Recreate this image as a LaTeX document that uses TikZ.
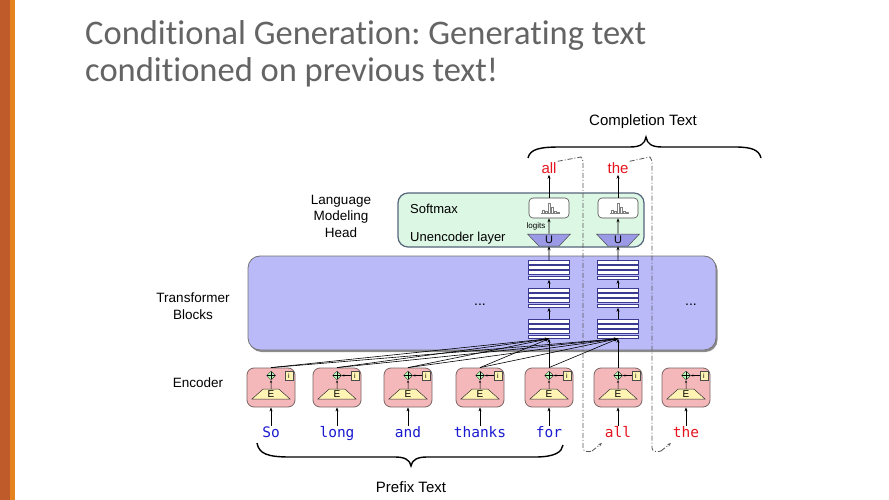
\documentclass[tikz,border=0pt]{standalone}
\usepackage{fontspec}
\setmainfont{Liberation Sans}
\newfontfamily\titlefont[Ligatures={NoCommon}]{Carlito}
\newfontfamily\tokfont{DejaVu Sans Mono}
\usetikzlibrary{shapes.geometric,arrows.meta,shadows}
\definecolor{barA}{HTML}{BF5A2A}
\definecolor{barB}{HTML}{E5831E}
\definecolor{titlegray}{HTML}{646464}
\definecolor{tfill}{HTML}{BABAF9}
\definecolor{hfill}{HTML}{DDF7E5}
\definecolor{hborder}{HTML}{55657A}
\definecolor{efill}{HTML}{F5B8BA}
\definecolor{eborder}{HTML}{7A6464}
\definecolor{trapfill}{HTML}{FFF4B4}
\definecolor{ufill}{HTML}{9A9AE6}
\definecolor{stkline}{HTML}{3A3A90}
\definecolor{tokblue}{HTML}{1A1AD0}
\definecolor{tokred}{HTML}{E3141E}
\definecolor{ddgray}{HTML}{555555}
\frenchspacing
\begin{document}
\begin{tikzpicture}[x=1pt,y=-1pt,
  arr/.style={-{Stealth[length=4pt,width=3pt]},line width=0.6pt},
  arrs/.style={-{Stealth[length=2.5pt,width=2pt]},line width=0.5pt},
  lbl/.style={font=\fontsize{13.5}{16.5}\selectfont,align=center},
  tok/.style={font=\tokfont\fontsize{14.5}{16}\selectfont,inner sep=1pt,text height=10.5pt,text depth=3pt},
  word/.style={font=\fontsize{15}{17}\selectfont,text=tokred,inner sep=1pt,text height=11pt,text depth=0pt},
  encbox/.style={draw=eborder,line width=0.8pt,fill=efill,rounded corners=7pt,minimum width=48pt,minimum height=39pt,inner sep=0pt},
  etrap/.style={trapezium,trapezium angle=55,trapezium stretches=true,minimum width=38pt,minimum height=10pt,inner sep=0pt,draw=black!80,line width=0.5pt,fill=trapfill,font=\fontsize{10}{10}\selectfont},
  dmd/.style={diamond,minimum width=9pt,minimum height=9pt,inner sep=0pt,draw=black!75,line width=0.5pt,fill=green!30},
  ibox/.style={rectangle,minimum width=8pt,minimum height=9pt,inner sep=0pt,draw=black!70,line width=0.5pt,fill=trapfill,font=\fontsize{7}{7}\selectfont},
  stk/.style={minimum width=41pt,minimum height=19pt,inner sep=0pt},
  bar/.style={draw=stkline,line width=0.45pt,fill=white},
  smbox/.style={draw=black!70,line width=0.6pt,fill=white,rounded corners=4pt,minimum width=40pt,minimum height=20pt,inner sep=0pt},
  ushape/.style={trapezium,trapezium angle=60,trapezium stretches=true,shape border rotate=180,minimum width=43pt,minimum height=12pt,inner sep=0pt,draw=black!70,line width=0.5pt,fill=ufill,font=\fontsize{11}{11}\selectfont},
  dd/.style={dash pattern=on 5pt off 2pt on 1pt off 2pt,draw=ddgray,line width=0.8pt},
  brace/.style={line width=1.4pt,draw=black}
]
\useasboundingbox (0,0) rectangle (889,500);
\fill[white] (0,0) rectangle (889,500);
% side bar
\fill[barA] (0,0) rectangle (10,500);
\fill[barB] (10,0) rectangle (15,500);
% title
\node[anchor=base west,inner sep=0pt,text=titlegray,font=\titlefont\fontsize{34.5}{40}\selectfont] (title1) at (85,45) {Conditional Generation: Generating text};
\node[anchor=base west,inner sep=0pt,text=titlegray,font=\titlefont\fontsize{34.5}{40}\selectfont] (title2) at (85,82) {conditioned on previous text!};

% transformer block
\node[draw=black!55,line width=0.8pt,fill=tfill,rounded corners=12pt,minimum width=468pt,minimum height=94pt,
  drop shadow={shadow xshift=1.5pt,shadow yshift=-2pt,fill=black,opacity=0.45}] (tb) at (482,303) {};
\node[font=\fontsize{14}{14}\selectfont] (dots1) at (480,305) {...};
\node[font=\fontsize{14}{14}\selectfont] (dots2) at (691,305) {...};

% LM head
\node[draw=hborder,line width=1.2pt,fill=hfill,rounded corners=10pt,minimum width=246pt,minimum height=54pt] (lmh) at (521,220) {};
\node[anchor=west,font=\fontsize{13}{13}\selectfont,inner sep=0pt] (smlbl) at (410,209) {Softmax};
\node[anchor=west,font=\fontsize{13}{13}\selectfont,inner sep=0pt] (unlbl) at (410,238) {Unencoder layer};
\node[font=\fontsize{8}{8}\selectfont,inner sep=0pt] (logits) at (536,226) {logits};

% left labels
\node[lbl] (lmlbl) at (341,216) {Language\\Modeling\\Head};
\node[lbl] (tblbl) at (193,306) {Transformer\\Blocks};
\node[lbl] (enclbl) at (198,383) {Encoder};

% columns
\foreach \c/\xc/\w in {1/549/all,2/618/the} {
  \foreach \r/\yc in {1/270,2/298,3/329} {
    \node[stk] (s\c\r) at (\xc,\yc) {};
    \foreach \k in {0,...,3}
      \draw[bar] (\xc-20.5,\yc-9.5+\k*5.1) rectangle ++(41,3.4);
  }
  \node[ushape] (u\c) at (\xc,240) {U};
  \node[smbox] (sm\c) at (\xc,208) {};
  \draw[black!50,line width=0.5pt]
    (\xc-8,213) -- (\xc+10,213)
    (\xc-7,213) rectangle (\xc-5,210.5)
    (\xc-4,213) rectangle (\xc-2,211)
    (\xc-1,213) rectangle (\xc+1,203)
    (\xc+2,213) rectangle (\xc+4,207)
    (\xc+5,213) rectangle (\xc+7,211.5)
    (\xc+8,213) rectangle (\xc+10,212);
  \node[word] (w\c) at (\xc,168) {\w};
  \draw[arr] (s\c3.north) -- (s\c2.south);
  \draw[arr] (s\c2.north) -- (s\c1.south);
  \draw[arr] (s\c1.north) -- (u\c.south);
  \draw[arr] (u\c.north) -- (sm\c.south);
  \draw[arr] (sm\c.north) -- (w\c.south);
}

% encoders
\foreach \i/\x/\t/\col in {1/271/So/tokblue,2/337/long/tokblue,3/408/and/tokblue,4/480/thanks/tokblue,5/549/for/tokblue,6/618/all/tokred,7/686/the/tokred} {
  \node[encbox] (e\i) at (\x,387.5) {};
  \node[etrap] (E\i) at (\x,394) {E};
  \node[dmd] (d\i) at (\x,375.5) {};
  \draw[line width=0.5pt] ([xshift=1.2pt]d\i.west) -- ([xshift=-1.2pt]d\i.east) ([yshift=-1.2pt]d\i.north) -- ([yshift=1.2pt]d\i.south);
  \node[ibox] (i\i) at (\x+18,375.5) {i};
  \draw[arrs] (E\i.north) -- (d\i.south);
  \ifnum\i>1 \draw[arrs] (i\i.west) -- (d\i.east); \fi
  \node[tok,text=\col] (t\i) at (\x,434) {\t};
  \draw[arr] (t\i.north) -- (e\i.south);
}
% encoder to transformer connections
\foreach \i in {1,...,5} \draw[arr] (e\i.north) -- (s13.south);
\foreach \i in {1,...,6} \draw[arr] (e\i.north) -- (s23.south);

% dash-dot autoregressive feedback
\coordinate (c1a) at (581,157);
\coordinate (c1b) at (583,448);
\coordinate (c1c) at (602,443);
\coordinate (c2a) at (650,157);
\coordinate (c2b) at (652,448);
\coordinate (c2c) at (671,443);
\draw[dd] (w1.north east) -- (c1a) -- (583,161) -- (c1b) to[out=-90,in=200] (592,451);
\draw[dd,-{Stealth[length=4pt,width=3pt]}] (592,451) -- (c1c);
\draw[dd] (w2.north east) -- (c2a) -- (652,161) -- (c2b) to[out=-90,in=200] (661,451);
\draw[dd,-{Stealth[length=4pt,width=3pt]}] (661,451) -- (c2c);

% braces
\draw[brace] (528,158) .. controls (530,149) and (540,147) .. (560,147) -- (630,147)
  .. controls (640,147) and (645,144) .. (646,137)
  .. controls (647,144) and (652,147) .. (662,147) -- (735,147)
  .. controls (752,147) and (759,150) .. (761,158);
\node[font=\fontsize{15}{15}\selectfont] (comp) at (643,122) {Completion Text};
\draw[brace] (257,443) .. controls (259,454) and (268,457) .. (290,457) -- (395,457)
  .. controls (405,457) and (410,460) .. (411,466)
  .. controls (412,460) and (417,457) .. (427,457) -- (535,457)
  .. controls (555,457) and (562,452) .. (563,445);
\node[font=\fontsize{15}{15}\selectfont] (pref) at (411,487) {Prefix Text};
\end{tikzpicture}
\end{document}
